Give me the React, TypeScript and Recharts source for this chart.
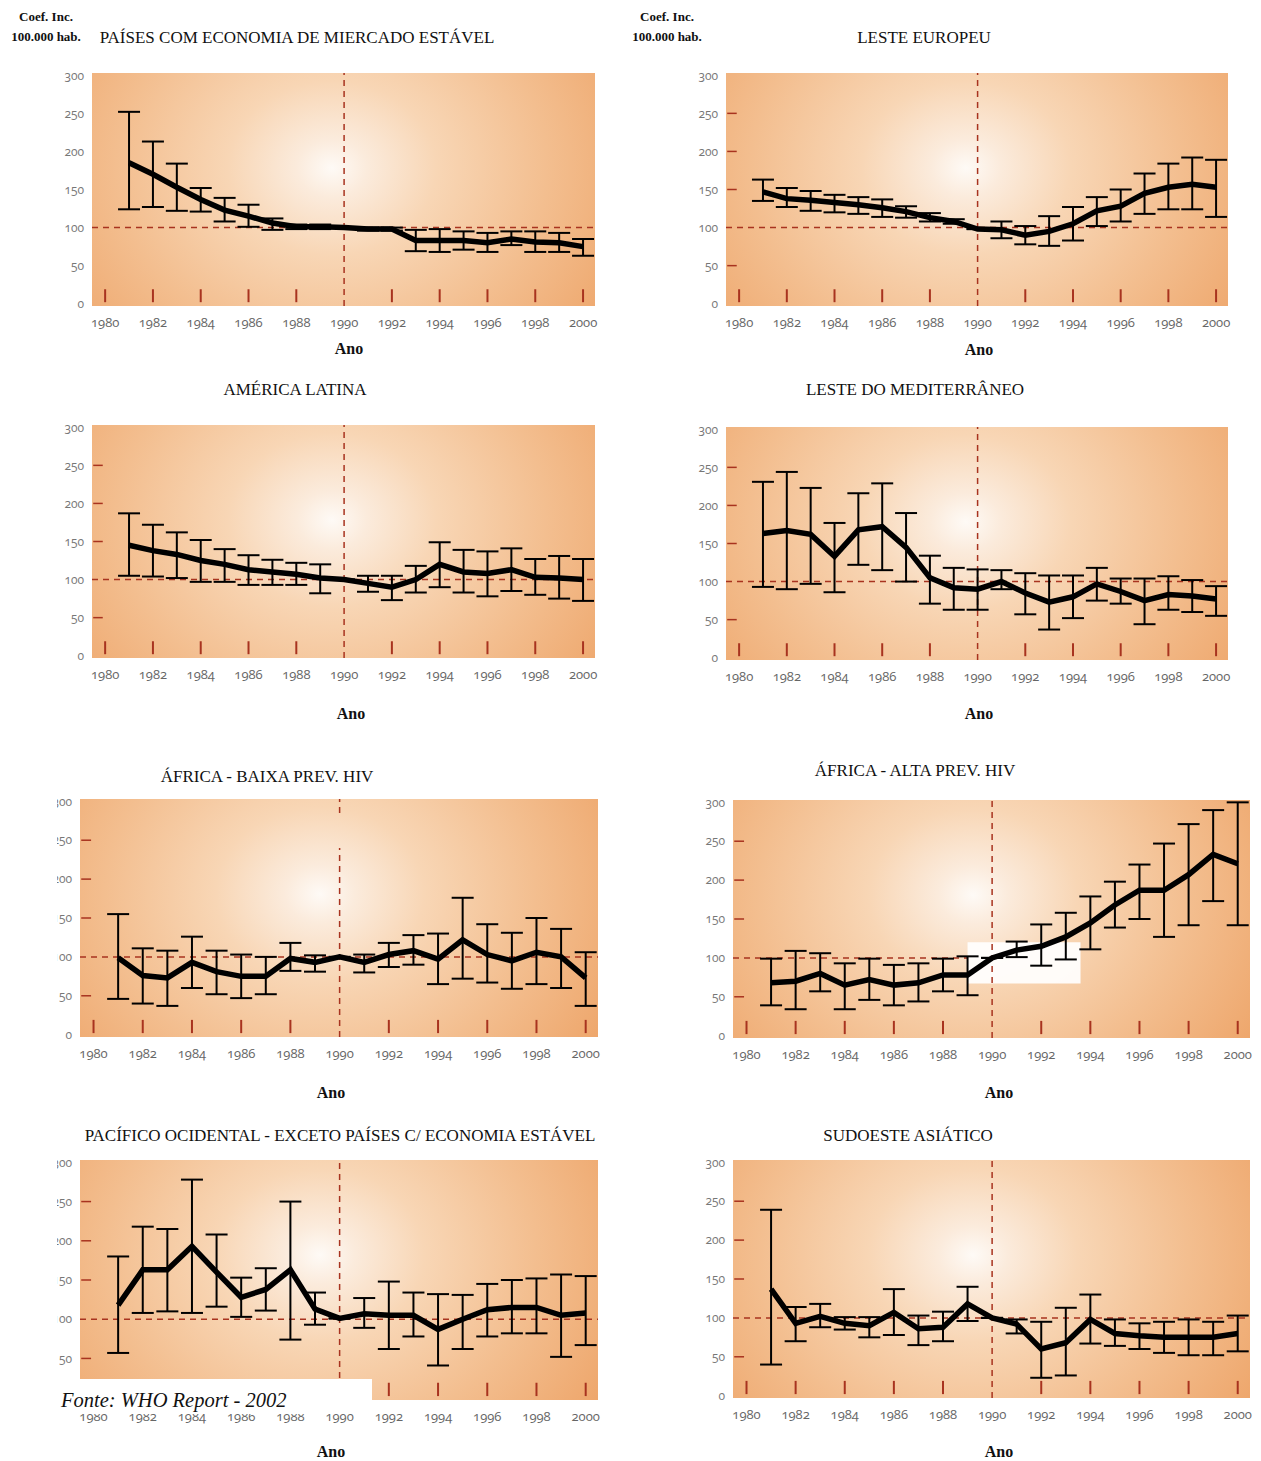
import React from 'react';
import { ComposedChart, Line, XAxis, YAxis, ErrorBar, ReferenceLine, ReferenceArea, CartesianGrid } from 'recharts';

const years = [1981, 1982, 1983, 1984, 1985, 1986, 1987, 1988, 1989, 1990, 1991, 1992, 1993, 1994, 1995, 1996, 1997, 1998, 1999, 2000];
const xTicks = [1980, 1982, 1984, 1986, 1988, 1990, 1992, 1994, 1996, 1998, 2000];
const yTicks = [0, 50, 100, 150, 200, 250, 300];

// Países com economia de mercado estável
const p1Val = [185, 170, 153, 137, 123, 115, 106, 101, 101, 100, 98, 98, 83, 83, 83, 80, 85, 81, 80, 75];
const p1Hi = [252, 213, 184, 152, 139, 130, 112, 104, 104, 100, 100, 100, 97, 98, 95, 93, 95, 95, 93, 85];
const p1Lo = [124, 127, 122, 121, 108, 101, 97, 98, 98, 100, 96, 96, 69, 68, 71, 68, 77, 68, 68, 63];

// Leste europeu
const p2Val = [147, 138, 136, 133, 130, 126, 121, 113, 108, 98, 97, 90, 95, 105, 122, 128, 145, 153, 157, 153];
const p2Hi = [163, 152, 148, 143, 140, 137, 128, 119, 111, 98, 108, 102, 115, 127, 140, 150, 171, 184, 192, 189];
const p2Lo = [135, 127, 122, 120, 118, 114, 113, 108, 105, 98, 86, 78, 76, 83, 102, 108, 118, 124, 124, 114];

// América Latina
const p3Val = [145, 138, 133, 125, 120, 113, 110, 107, 102, 100, 95, 90, 100, 120, 110, 108, 113, 103, 102, 100];
const p3Hi = [187, 172, 162, 152, 140, 132, 126, 122, 120, 100, 105, 105, 118, 149, 139, 137, 141, 127, 131, 127];
const p3Lo = [105, 104, 102, 97, 97, 93, 93, 93, 82, 100, 84, 73, 83, 90, 83, 78, 85, 80, 75, 72];

// Leste do Mediterrâneo
const p4Val = [163, 167, 162, 133, 168, 172, 145, 105, 92, 90, 100, 85, 73, 80, 97, 87, 75, 83, 81, 77];
const p4Hi = [231, 244, 223, 177, 216, 229, 190, 134, 118, 116, 115, 111, 108, 108, 118, 104, 104, 107, 102, 94];
const p4Lo = [93, 90, 97, 86, 122, 115, 100, 71, 63, 63, 90, 57, 37, 52, 75, 71, 44, 63, 60, 55];

// África - baixa prev. HIV
const p5Val = [99, 76, 73, 93, 81, 75, 75, 98, 93, 100, 93, 103, 108, 97, 122, 103, 95, 106, 100, 73];
const p5Hi = [155, 111, 108, 126, 108, 103, 100, 118, 102, 100, 103, 118, 128, 130, 176, 142, 131, 150, 136, 106];
const p5Lo = [46, 40, 37, 60, 52, 47, 52, 82, 81, 100, 80, 87, 90, 65, 72, 67, 59, 65, 60, 37];

// África - alta prev. HIV
const p6Val = [68, 70, 80, 65, 72, 65, 68, 78, 78, 100, 110, 115, 127, 145, 168, 187, 187, 207, 233, 221];
const p6Hi = [99, 109, 106, 93, 99, 91, 93, 99, 102, 100, 121, 143, 158, 179, 198, 220, 247, 272, 290, 300];
const p6Lo = [39, 34, 57, 34, 46, 39, 44, 57, 52, 100, 101, 90, 98, 111, 139, 150, 127, 142, 173, 142];

// Pacífico ocidental
const p7Val = [118, 163, 163, 193, 160, 128, 138, 163, 113, 101, 107, 105, 105, 87, 100, 112, 115, 115, 105, 108];
const p7Hi = [180, 218, 215, 278, 208, 153, 165, 250, 134, 101, 127, 148, 134, 132, 131, 145, 150, 152, 157, 155];
const p7Lo = [57, 108, 110, 108, 116, 103, 111, 74, 93, 101, 89, 62, 78, 41, 62, 78, 82, 82, 52, 67];

// Sudoeste asiático
const p8Val = [137, 93, 102, 93, 90, 107, 86, 88, 118, 100, 92, 60, 68, 98, 80, 77, 75, 75, 75, 80];
const p8Hi = [239, 114, 118, 101, 101, 137, 103, 108, 140, 100, 98, 95, 113, 130, 98, 93, 95, 98, 95, 103];
const p8Lo = [40, 70, 88, 85, 75, 78, 65, 70, 96, 100, 80, 23, 26, 67, 64, 60, 55, 52, 52, 57];

const X0 = 1979.45;
const X1 = 2000.5;
const Y0 = -3;
const Y1 = 303;
const RED = '#a8331f';

const ML = 45;
const MT = 10;
const MR = 10;
const XH = 34;

type PanelCfg = {
  x: number; y: number; w: number; h: number;
  val: number[]; hi: number[]; lo: number[];
  clip?: number;
  hLineTo?: number;
  vSegments?: [number, number][];
  yDashes?: boolean;
  blob?: boolean;
};

function Panel({ cfg }: { cfg: PanelCfg }) {
  const data = years.map((yr, i) => ({
    year: yr,
    v: cfg.val[i],
    err: [cfg.val[i] - cfg.lo[i], cfg.hi[i] - cfg.val[i]],
  }));
  const W = cfg.w + ML + MR;
  const H = cfg.h + MT + XH;
  const vSegs = cfg.vSegments || [[Y0, Y1]];
  return (
    <div
      style={{
        position: 'absolute',
        left: cfg.x - ML,
        top: cfg.y - MT,
        width: W,
        height: H,
        clipPath: cfg.clip ? `inset(0 0 0 ${cfg.clip}px)` : undefined,
      }}
    >
      <ComposedChart width={W} height={H} data={data} margin={{ top: MT, right: MR, bottom: 0, left: 0 }}>
        <CartesianGrid horizontal={false} vertical={false} fill="url(#bgGrad)" stroke="none" />
        <XAxis
          type="number"
          dataKey="year"
          domain={[X0, X1]}
          ticks={xTicks}
          interval={0}
          allowDataOverflow
          axisLine={false}
          tickLine={false}
          height={XH}
          tickMargin={6}
          tick={{ fill: '#666', fontSize: 13, fontFamily: 'Open Sans, sans-serif', style: { fontVariantNumeric: 'oldstyle-nums' } }}
        />
        <YAxis
          type="number"
          domain={[Y0, Y1]}
          ticks={yTicks}
          interval={0}
          allowDataOverflow
          axisLine={false}
          tickLine={false}
          width={ML}
          tickMargin={2}
          tick={{ fill: '#777', fontSize: 12, fontFamily: 'Open Sans, sans-serif', style: { fontVariantNumeric: 'oldstyle-nums' } }}
        />
        {cfg.blob ? (
          <ReferenceArea x1={1989} x2={1993.6} y1={67} y2={120} fill="#ffffff" fillOpacity={0.92} stroke="none" />
        ) : null}
        {xTicks.filter((t) => t !== 1990).map((t) => (
          <ReferenceLine key={'t' + t} segment={[{ x: t, y: 2 }, { x: t, y: 19 }]} stroke={RED} strokeWidth={2} />
        ))}
        {cfg.yDashes
          ? [50, 150, 200, 250].map((v) => (
              <ReferenceLine key={'y' + v} segment={[{ x: 1979.5, y: v }, { x: 1979.9, y: v }]} stroke={RED} strokeWidth={1.5} />
            ))
          : null}
        {cfg.hLineTo ? (
          <ReferenceLine segment={[{ x: X0, y: 100 }, { x: cfg.hLineTo, y: 100 }]} stroke={RED} strokeWidth={1.5} strokeDasharray="6 5" />
        ) : (
          <ReferenceLine y={100} stroke={RED} strokeWidth={1.5} strokeDasharray="6 5" />
        )}
        {vSegs.map((s, i) => (
          <ReferenceLine key={'v' + i} segment={[{ x: 1990, y: s[0] }, { x: 1990, y: s[1] }]} stroke={RED} strokeWidth={1.5} strokeDasharray="6 5" />
        ))}
        <Line
          type="linear"
          dataKey="v"
          stroke="#000"
          strokeWidth={5.5}
          dot={false}
          activeDot={false}
          isAnimationActive={false}
        >
          <ErrorBar dataKey="err" width={11} stroke="#000" strokeWidth={2} direction="y" />
        </Line>
      </ComposedChart>
    </div>
  );
}

const panels: PanelCfg[] = [
  { x: 92, y: 73, w: 503, h: 233, val: p1Val, hi: p1Hi, lo: p1Lo },
  { x: 726, y: 73, w: 502, h: 233, val: p2Val, hi: p2Hi, lo: p2Lo, yDashes: true },
  { x: 92, y: 425, w: 503, h: 233, val: p3Val, hi: p3Hi, lo: p3Lo, yDashes: true },
  { x: 726, y: 427, w: 502, h: 233, val: p4Val, hi: p4Hi, lo: p4Lo, yDashes: true },
  { x: 80, y: 799, w: 518, h: 238, val: p5Val, hi: p5Hi, lo: p5Lo, clip: 22, yDashes: true, vSegments: [[285, 303], [-3, 240]] },
  { x: 733, y: 800, w: 517, h: 238, val: p6Val, hi: p6Hi, lo: p6Lo, hLineTo: 1989, blob: true, yDashes: true },
  { x: 80, y: 1160, w: 518, h: 240, val: p7Val, hi: p7Hi, lo: p7Lo, clip: 22, yDashes: true },
  { x: 733, y: 1160, w: 517, h: 238, val: p8Val, hi: p8Hi, lo: p8Lo, yDashes: true },
];

type Lbl = { text: string; x: number; y: number; size: number; bold?: boolean };

const labels: Lbl[] = [
  { text: 'Coef. Inc.', x: 46, y: 17, size: 13, bold: true },
  { text: '100.000 hab.', x: 46, y: 37, size: 13, bold: true },
  { text: 'PAÍSES COM ECONOMIA DE MIERCADO ESTÁVEL', x: 297, y: 38, size: 17 },
  { text: 'Coef. Inc.', x: 667, y: 17, size: 13, bold: true },
  { text: '100.000 hab.', x: 667, y: 37, size: 13, bold: true },
  { text: 'LESTE EUROPEU', x: 924, y: 38, size: 17 },
  { text: 'Ano', x: 349, y: 349, size: 16, bold: true },
  { text: 'Ano', x: 979, y: 350, size: 16, bold: true },
  { text: 'AMÉRICA LATINA', x: 295, y: 390, size: 17 },
  { text: 'LESTE DO MEDITERRÂNEO', x: 915, y: 390, size: 17 },
  { text: 'Ano', x: 351, y: 714, size: 16, bold: true },
  { text: 'Ano', x: 979, y: 714, size: 16, bold: true },
  { text: 'ÁFRICA - BAIXA PREV. HIV', x: 267, y: 777, size: 17 },
  { text: 'ÁFRICA - ALTA PREV. HIV', x: 915, y: 771, size: 17 },
  { text: 'Ano', x: 331, y: 1093, size: 16, bold: true },
  { text: 'Ano', x: 999, y: 1093, size: 16, bold: true },
  { text: 'PACÍFICO OCIDENTAL - EXCETO PAÍSES C/ ECONOMIA ESTÁVEL', x: 340, y: 1136, size: 17 },
  { text: 'SUDOESTE ASIÁTICO', x: 908, y: 1136, size: 17 },
  { text: 'Ano', x: 331, y: 1452, size: 16, bold: true },
  { text: 'Ano', x: 999, y: 1452, size: 16, bold: true },
];

export default function App() {
  return (
    <div style={{ position: 'absolute', left: 0, top: 0, width: 1261, height: 1461, background: '#fff', overflow: 'hidden' }}>
      <svg width={0} height={0} style={{ position: 'absolute' }}>
        <defs>
          <radialGradient
            id="bgGrad"
            gradientUnits="userSpaceOnUse"
            cx={285}
            cy={105}
            r={290}
            gradientTransform="translate(285 105) scale(1.2 1) translate(-285 -105)"
          >
            <stop offset="0" stopColor="#fefaf6" />
            <stop offset="0.1" stopColor="#fbebdc" />
            <stop offset="0.3" stopColor="#f8d6b5" />
            <stop offset="0.62" stopColor="#f3be8f" />
            <stop offset="1" stopColor="#eda265" />
          </radialGradient>
        </defs>
      </svg>
      {panels.map((p, i) => (
        <Panel key={i} cfg={p} />
      ))}
      {labels.map((l, i) => (
        <div
          key={i}
          style={{
            position: 'absolute',
            left: l.x,
            top: l.y,
            transform: 'translate(-50%, -50%)',
            whiteSpace: 'nowrap',
            fontFamily: 'Liberation Serif, serif',
            fontSize: l.size,
            fontWeight: l.bold ? 700 : 400,
            color: '#111',
          }}
        >
          {l.text}
        </div>
      ))}
      <div
        style={{
          position: 'absolute',
          left: 48,
          top: 1379,
          width: 324,
          height: 35,
          background: '#fff',
        }}
      />
      <div
        style={{
          position: 'absolute',
          left: 61,
          top: 1400,
          transform: 'translateY(-50%)',
          whiteSpace: 'nowrap',
          fontFamily: 'Liberation Serif, serif',
          fontStyle: 'italic',
          fontSize: 20.5,
          color: '#111',
        }}
      >
        Fonte: WHO Report - 2002
      </div>
    </div>
  );
}
